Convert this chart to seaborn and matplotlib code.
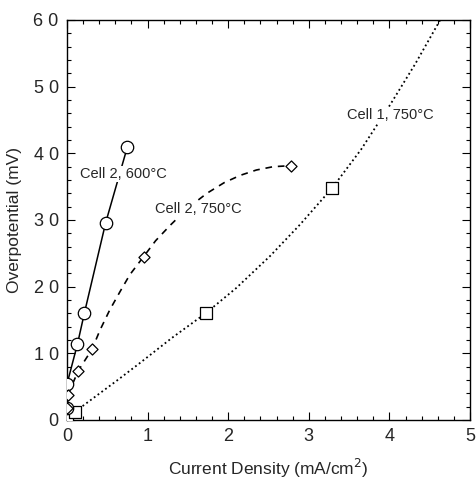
import numpy as np
import pandas as pd
import matplotlib
matplotlib.use("Agg")
import matplotlib.pyplot as plt
from matplotlib.ticker import MultipleLocator
import seaborn as sns

# Measured points (current density in mA/cm^2, overpotential in mV)
c2_600_x = [0.00, 0.00, 0.13, 0.215, 0.48, 0.75]
c2_600_y = [1.75, 5.4, 11.4, 16.0, 29.6, 41.0]

c2_750_x = [0.00, 0.01, 0.14, 0.31, 0.95, 2.78]
c2_750_y = [1.75, 3.75, 7.4, 10.6, 24.5, 38.15]

c1_750_x = [0.00, 0.10, 1.72, 3.29]
c1_750_y = [0.25, 1.25, 16.0, 34.8]

# Fitted guide curves traced through each series
c2_600_fit_x = [0.00, 0.00, 0.13, 0.215, 0.48, 0.75]
c2_600_fit_y = [1.75, 5.4, 11.4, 16.0, 29.6, 41.0]

c2_750_fit_x = [0.01, 0.14, 0.31, 0.41, 0.53, 0.66, 0.78, 0.95, 1.10, 1.28,
                1.50, 1.735, 1.95, 2.15, 2.35, 2.56, 2.78]
c2_750_fit_y = [3.75, 7.4, 10.6, 13.5, 16.5, 19.3, 21.8, 24.5, 26.9, 29.2,
                31.8, 34.0, 35.6, 36.7, 37.5, 38.0, 38.15]

c1_750_fit_x = [0.10, 0.64, 0.91, 1.30, 1.72, 2.10, 2.52, 2.89, 3.29, 3.65,
                4.01, 4.32, 4.63]
c1_750_fit_y = [1.25, 6.1, 8.6, 12.3, 16.0, 19.8, 24.6, 29.3, 34.8, 40.6,
                47.3, 53.4, 60.0]

x_ticks = [0, 1, 2, 3, 4, 5]
y_ticks = [0, 10, 20, 30, 40, 50, 60]

sns.set_style("ticks")
plt.rcParams["font.family"] = ["Liberation Sans", "DejaVu Sans"]

fig = plt.figure(figsize=(4.76, 4.79), dpi=100)
ax = fig.add_axes([67 / 476, 59 / 479, 403 / 476, 400 / 479])

line_kw = dict(color="black", sort=False, estimator=None, ax=ax, legend=False)
sns.lineplot(x=c2_600_fit_x, y=c2_600_fit_y, linestyle="-", linewidth=1.1, **line_kw)
sns.lineplot(x=c2_750_fit_x, y=c2_750_fit_y, linestyle=(0, (4, 3.5)), linewidth=1.2, **line_kw)
sns.lineplot(x=c1_750_fit_x, y=c1_750_fit_y, linestyle=(0, (1, 1.6)), linewidth=1.3, **line_kw)

mk_kw = dict(facecolor="white", edgecolor="black", linewidth=0.9, ax=ax, legend=False, zorder=3, clip_on=True)
sns.scatterplot(x=c1_750_x, y=c1_750_y, marker="s", s=78, **mk_kw)
sns.scatterplot(x=c2_600_x, y=c2_600_y, marker="o", s=80, **mk_kw)
sns.scatterplot(x=c2_750_x, y=c2_750_y, marker="D", s=32, **mk_kw)

ax.set_xlim(0, 5)
ax.set_ylim(0, 60)
ax.set_xticks(x_ticks)
ax.set_yticks(y_ticks)
ax.xaxis.set_minor_locator(MultipleLocator(0.2))
ax.yaxis.set_minor_locator(MultipleLocator(2))
ax.tick_params(which="both", direction="in", top=True, right=True, width=0.8, color="black")
ax.tick_params(which="major", length=6, labelsize=13, pad=6)
ax.tick_params(which="minor", length=3)
for s in ax.spines.values():
    s.set_linewidth(1.0)
    s.set_color("black")

ax.set_yticklabels([" ".join(str(v)) for v in y_ticks])

ax.set_xlabel("Current Density (mA/cm$^2$)", fontsize=12.5, labelpad=8)
ax.set_ylabel("Overpotential (mV)", fontsize=12.5, labelpad=8)

box = dict(facecolor="white", edgecolor="none", pad=1.0)
ax.text(0.16, 36.9, "Cell 2, 600°C", fontsize=10.5, va="center", ha="left", bbox=box, zorder=4)
ax.text(1.09, 31.6, "Cell 2, 750°C", fontsize=10.5, va="center", ha="left", bbox=box, zorder=4)
ax.text(3.47, 45.7, "Cell 1, 750°C", fontsize=10.5, va="center", ha="left", bbox=box, zorder=4)

fig.savefig("out.png", dpi=100)
